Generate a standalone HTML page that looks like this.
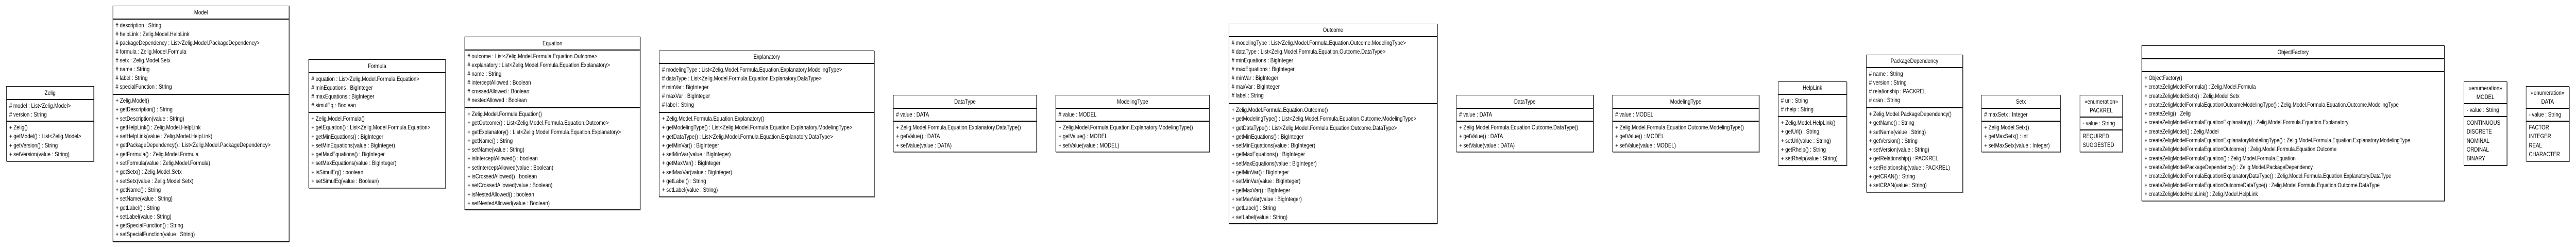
<!DOCTYPE html>
<html><head><meta charset="utf-8">
<style>
html,body{margin:0;padding:0;background:#fff;overflow:hidden;width:100%;height:100%;}
svg{display:block;width:100vw;height:100vh;}
#root{width:6172px;height:479px;position:relative;overflow:hidden;font-family:"Liberation Sans",Arial,sans-serif;font-size:12px;color:#000;background:#fff;}
.b{position:absolute;border:1px solid #000;background:#fff;box-shadow:1px 1px 0 #666;box-sizing:border-box;display:flex;flex-direction:column;overflow:hidden;}
.h{border-bottom:2px solid #000;text-align:center;display:flex;flex-direction:column;justify-content:center;line-height:17px;box-sizing:border-box;flex:none;overflow:hidden;}
.s{border-bottom:2px solid #000;padding:3px 6px;box-sizing:border-box;line-height:17px;white-space:nowrap;flex:none;overflow:hidden;}
.m{padding:3px 6px;line-height:17.3px;white-space:nowrap;flex:1;overflow:hidden;min-width:0;}
</style></head><body>
<svg xmlns="http://www.w3.org/2000/svg" viewBox="0 0 6172 479" preserveAspectRatio="none">
<foreignObject x="0" y="0" width="6172" height="479">
<div xmlns="http://www.w3.org/1999/xhtml" id="root">

<div class="b" style="left:15px;top:167px;width:210px;height:146px">
<div class="h" style="height:26px">Zelig</div>
<div class="s" style="height:42px"># model : List&lt;Zelig.Model&gt;<br/># version : String</div>
<div class="m">+ Zelig()<br/>+ getModel() : List&lt;Zelig.Model&gt;<br/>+ getVersion() : String<br/>+ setVersion(value : String)</div>
</div>

<div class="b" style="left:270px;top:11px;width:423px;height:458px">
<div class="h" style="height:26px">Model</div>
<div class="s" style="height:146px"># description : String<br/># helpLink : Zelig.Model.HelpLink<br/># packageDependency : List&lt;Zelig.Model.PackageDependency&gt;<br/># formula : Zelig.Model.Formula<br/># setx : Zelig.Model.Setx<br/># name : String<br/># label : String<br/># specialFunction : String</div>
<div class="m">+ Zelig.Model()<br/>+ getDescription() : String<br/>+ setDescription(value : String)<br/>+ getHelpLink() : Zelig.Model.HelpLink<br/>+ setHelpLink(value : Zelig.Model.HelpLink)<br/>+ getPackageDependency() : List&lt;Zelig.Model.PackageDependency&gt;<br/>+ getFormula() : Zelig.Model.Formula<br/>+ setFormula(value : Zelig.Model.Formula)<br/>+ getSetx() : Zelig.Model.Setx<br/>+ setSetx(value : Zelig.Model.Setx)<br/>+ getName() : String<br/>+ setName(value : String)<br/>+ getLabel() : String<br/>+ setLabel(value : String)<br/>+ getSpecialFunction() : String<br/>+ setSpecialFunction(value : String)</div>
</div>

<div class="b" style="left:739px;top:115px;width:329px;height:250px">
<div class="h" style="height:26px">Formula</div>
<div class="s" style="height:77px"># equation : List&lt;Zelig.Model.Formula.Equation&gt;<br/># minEquations : BigInteger<br/># maxEquations : BigInteger<br/># simulEq : Boolean</div>
<div class="m">+ Zelig.Model.Formula()<br/>+ getEquation() : List&lt;Zelig.Model.Formula.Equation&gt;<br/>+ getMinEquations() : BigInteger<br/>+ setMinEquations(value : BigInteger)<br/>+ getMaxEquations() : BigInteger<br/>+ setMaxEquations(value : BigInteger)<br/>+ isSimulEq() : boolean<br/>+ setSimulEq(value : Boolean)</div>
</div>

<div class="b" style="left:1113px;top:71px;width:421px;height:336px">
<div class="h" style="height:26px">Equation</div>
<div class="s" style="height:112px"># outcome : List&lt;Zelig.Model.Formula.Equation.Outcome&gt;<br/># explanatory : List&lt;Zelig.Model.Formula.Equation.Explanatory&gt;<br/># name : String<br/># interceptAllowed : Boolean<br/># crossedAllowed : Boolean<br/># nestedAllowed : Boolean</div>
<div class="m">+ Zelig.Model.Formula.Equation()<br/>+ getOutcome() : List&lt;Zelig.Model.Formula.Equation.Outcome&gt;<br/>+ getExplanatory() : List&lt;Zelig.Model.Formula.Equation.Explanatory&gt;<br/>+ getName() : String<br/>+ setName(value : String)<br/>+ isInterceptAllowed() : boolean<br/>+ setInterceptAllowed(value : Boolean)<br/>+ isCrossedAllowed() : boolean<br/>+ setCrossedAllowed(value : Boolean)<br/>+ isNestedAllowed() : boolean<br/>+ setNestedAllowed(value : Boolean)</div>
</div>

<div class="b" style="left:1579px;top:98px;width:516px;height:284px">
<div class="h" style="height:25px">Explanatory</div>
<div class="s" style="height:95px"># modelingType : List&lt;Zelig.Model.Formula.Equation.Explanatory.ModelingType&gt;<br/># dataType : List&lt;Zelig.Model.Formula.Equation.Explanatory.DataType&gt;<br/># minVar : BigInteger<br/># maxVar : BigInteger<br/># label : String</div>
<div class="m">+ Zelig.Model.Formula.Equation.Explanatory()<br/>+ getModelingType() : List&lt;Zelig.Model.Formula.Equation.Explanatory.ModelingType&gt;<br/>+ getDataType() : List&lt;Zelig.Model.Formula.Equation.Explanatory.DataType&gt;<br/>+ getMinVar() : BigInteger<br/>+ setMinVar(value : BigInteger)<br/>+ getMaxVar() : BigInteger<br/>+ setMaxVar(value : BigInteger)<br/>+ getLabel() : String<br/>+ setLabel(value : String)</div>
</div>

<div class="b" style="left:2140px;top:184px;width:344px;height:111px">
<div class="h" style="height:26px">DataType</div>
<div class="s" style="height:25px"># value : DATA</div>
<div class="m">+ Zelig.Model.Formula.Equation.Explanatory.DataType()<br/>+ getValue() : DATA<br/>+ setValue(value : DATA)</div>
</div>

<div class="b" style="left:2529px;top:184px;width:369px;height:111px">
<div class="h" style="height:26px">ModelingType</div>
<div class="s" style="height:25px"># value : MODEL</div>
<div class="m">+ Zelig.Model.Formula.Equation.Explanatory.ModelingType()<br/>+ getValue() : MODEL<br/>+ setValue(value : MODEL)</div>
</div>

<div class="b" style="left:2944px;top:46px;width:500px;height:388px">
<div class="h" style="height:25px">Outcome</div>
<div class="s" style="height:130px"># modelingType : List&lt;Zelig.Model.Formula.Equation.Outcome.ModelingType&gt;<br/># dataType : List&lt;Zelig.Model.Formula.Equation.Outcome.DataType&gt;<br/># minEquations : BigInteger<br/># maxEquations : BigInteger<br/># minVar : BigInteger<br/># maxVar : BigInteger<br/># label : String</div>
<div class="m">+ Zelig.Model.Formula.Equation.Outcome()<br/>+ getModelingType() : List&lt;Zelig.Model.Formula.Equation.Outcome.ModelingType&gt;<br/>+ getDataType() : List&lt;Zelig.Model.Formula.Equation.Outcome.DataType&gt;<br/>+ getMinEquations() : BigInteger<br/>+ setMinEquations(value : BigInteger)<br/>+ getMaxEquations() : BigInteger<br/>+ setMaxEquations(value : BigInteger)<br/>+ getMinVar() : BigInteger<br/>+ setMinVar(value : BigInteger)<br/>+ getMaxVar() : BigInteger<br/>+ setMaxVar(value : BigInteger)<br/>+ getLabel() : String<br/>+ setLabel(value : String)</div>
</div>

<div class="b" style="left:3489px;top:184px;width:329px;height:111px">
<div class="h" style="height:26px">DataType</div>
<div class="s" style="height:25px"># value : DATA</div>
<div class="m">+ Zelig.Model.Formula.Equation.Outcome.DataType()<br/>+ getValue() : DATA<br/>+ setValue(value : DATA)</div>
</div>

<div class="b" style="left:3863px;top:184px;width:352px;height:111px">
<div class="h" style="height:26px">ModelingType</div>
<div class="s" style="height:25px"># value : MODEL</div>
<div class="m">+ Zelig.Model.Formula.Equation.Outcome.ModelingType()<br/>+ getValue() : MODEL<br/>+ setValue(value : MODEL)</div>
</div>

<div class="b" style="left:4260px;top:158px;width:165px;height:163px">
<div class="h" style="height:25px">HelpLink</div>
<div class="s" style="height:43px"># url : String<br/># rhelp : String</div>
<div class="m">+ Zelig.Model.HelpLink()<br/>+ getUrl() : String<br/>+ setUrl(value : String)<br/>+ getRhelp() : String<br/>+ setRhelp(value : String)</div>
</div>

<div class="b" style="left:4471px;top:106px;width:232px;height:267px">
<div class="h" style="height:25px">PackageDependency</div>
<div class="s" style="height:78px"># name : String<br/># version : String<br/># relationship : PACKREL<br/># cran : String</div>
<div class="m">+ Zelig.Model.PackageDependency()<br/>+ getName() : String<br/>+ setName(value : String)<br/>+ getVersion() : String<br/>+ setVersion(value : String)<br/>+ getRelationship() : PACKREL<br/>+ setRelationship(value : PACKREL)<br/>+ getCRAN() : String<br/>+ setCRAN(value : String)</div>
</div>

<div class="b" style="left:4747px;top:184px;width:190px;height:111px">
<div class="h" style="height:26px">Setx</div>
<div class="s" style="height:25px"># maxSetx : Integer</div>
<div class="m">+ Zelig.Model.Setx()<br/>+ getMaxSetx() : int<br/>+ setMaxSetx(value : Integer)</div>
</div>

<div class="b" style="left:4983px;top:184px;width:103px;height:111px">
<div class="h" style="height:43px">«enumeration»<br/>PACKREL</div>
<div class="s" style="height:25px">- value : String</div>
<div class="m">REQUIRED<br/>SUGGESTED</div>
</div>

<div class="b" style="left:5131px;top:88px;width:726px;height:302px">
<div class="h" style="height:26px">ObjectFactory</div>
<div class="s" style="height:25px"></div>
<div class="m" style="font-size:11.7px">+ ObjectFactory()<br/>+ createZeligModelFormula() : Zelig.Model.Formula<br/>+ createZeligModelSetx() : Zelig.Model.Setx<br/>+ createZeligModelFormulaEquationOutcomeModelingType() : Zelig.Model.Formula.Equation.Outcome.ModelingType<br/>+ createZelig() : Zelig<br/>+ createZeligModelFormulaEquationExplanatory() : Zelig.Model.Formula.Equation.Explanatory<br/>+ createZeligModel() : Zelig.Model<br/>+ createZeligModelFormulaEquationExplanatoryModelingType() : Zelig.Model.Formula.Equation.Explanatory.ModelingType<br/>+ createZeligModelFormulaEquationOutcome() : Zelig.Model.Formula.Equation.Outcome<br/>+ createZeligModelFormulaEquation() : Zelig.Model.Formula.Equation<br/>+ createZeligModelPackageDependency() : Zelig.Model.PackageDependency<br/>+ createZeligModelFormulaEquationExplanatoryDataType() : Zelig.Model.Formula.Equation.Explanatory.DataType<br/>+ createZeligModelFormulaEquationOutcomeDataType() : Zelig.Model.Formula.Equation.Outcome.DataType<br/>+ createZeligModelHelpLink() : Zelig.Model.HelpLink</div>
</div>

<div class="b" style="left:5903px;top:158px;width:104px;height:163px">
<div class="h" style="height:43px">«enumeration»<br/>MODEL</div>
<div class="s" style="height:25px">- value : String</div>
<div class="m">CONTINUOUS<br/>DISCRETE<br/>NOMINAL<br/>ORDINAL<br/>BINARY</div>
</div>

<div class="b" style="left:6052px;top:167px;width:104px;height:146px">
<div class="h" style="height:43px">«enumeration»<br/>DATA</div>
<div class="s" style="height:25px">- value : String</div>
<div class="m">FACTOR<br/>INTEGER<br/>REAL<br/>CHARACTER</div>
</div>

</div>
</foreignObject>
</svg>
</body></html>
